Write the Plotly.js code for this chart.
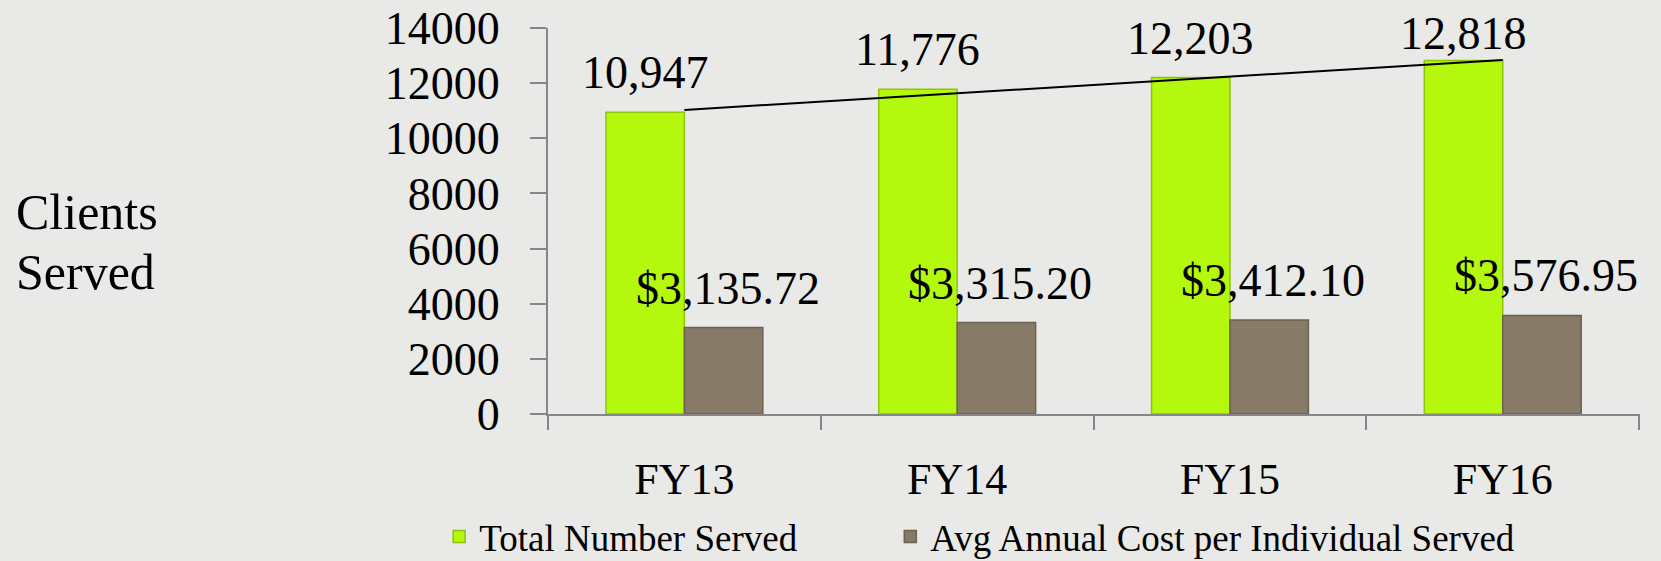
<!DOCTYPE html>
<html>
<head>
<meta charset="utf-8">
<script src="https://cdn.plot.ly/plotly-3.0.1.min.js"></script>
<style>
  html, body { margin: 0; padding: 0; background: #e9e9e7; }
  #chart { width: 1661px; height: 561px; }
</style>
</head>
<body>
<div id="chart"></div>
<script>
// ---- data ----
const categories = ['FY13', 'FY14', 'FY15', 'FY16'];
const totalServed = [10947, 11776, 12203, 12818];
const avgCost = [3135.72, 3315.20, 3412.10, 3576.95];
// straight trend line (at category centres)
const trendValues = [11030, 11634, 12238, 12842];
const yTickVals = [0, 2000, 4000, 6000, 8000, 10000, 12000, 14000];
const yTickText = ['0', '2000', '4000', '6000', '8000', '10000', '12000', '14000'];
const seriesNames = ['Total Number Served', 'Avg Annual Cost per Individual Served'];
const yTitleLines = ['Clients', 'Served'];

// ---- style ----
const FONT = 'Liberation Serif, Times New Roman, serif';
const GREEN = '#b4f80d';
const GREEN_EDGE = '#8fc40a';
const BROWN = '#877a68';
const BROWN_EDGE = '#6c614f';
const AXIS = '#868686';
const LABEL_SIZE = 46;
const totalLift = [12, 12, 12, 0];
const costLift = [12, 12, 12, 12];
const BAR_OFFSET = 39.25;
const titleY = [0.523, 0.368];

const fmtInt = v => v.toLocaleString('en-US');
const fmtCost = v => '$' + v.toLocaleString('en-US', {minimumFractionDigits: 2, maximumFractionDigits: 2});

const traces = [
  {
    type: 'bar', name: seriesNames[0], x: categories, y: totalServed, legend: 'legend',
    marker: {color: GREEN, line: {color: GREEN_EDGE, width: 1.5}},
    hoverinfo: 'x+y'
  },
  {
    type: 'bar', name: seriesNames[1], x: categories, y: avgCost, legend: 'legend2',
    marker: {color: BROWN, line: {color: BROWN_EDGE, width: 1.5}},
    hoverinfo: 'x+y'
  },
  {
    type: 'scatter', mode: 'lines', x: categories, y: trendValues,
    line: {color: '#000000', width: 2}, showlegend: false, hoverinfo: 'skip'
  }
];

const annotations = [];
categories.forEach((c, i) => {
  annotations.push({
    x: c, y: totalServed[i], xref: 'x', yref: 'y', xshift: -BAR_OFFSET, yshift: totalLift[i],
    text: fmtInt(totalServed[i]), showarrow: false, xanchor: 'center', yanchor: 'bottom',
    font: {family: FONT, size: LABEL_SIZE, color: '#000'}
  });
  annotations.push({
    x: c, y: avgCost[i], xref: 'x', yref: 'y', xshift: BAR_OFFSET + 4, yshift: costLift[i],
    text: fmtCost(avgCost[i]), showarrow: false, xanchor: 'center', yanchor: 'bottom',
    font: {family: FONT, size: LABEL_SIZE, color: '#000'}
  });
});
yTitleLines.forEach((t, i) => {
  annotations.push({
    xref: 'paper', yref: 'paper', x: -0.489, y: titleY[i], xanchor: 'left', yanchor: 'middle',
    align: 'left', showarrow: false, text: t,
    font: {family: FONT, size: 50, color: '#000'}
  });
});

const legendCommon = {
  orientation: 'h', xref: 'container', yref: 'container', xanchor: 'left', yanchor: 'middle',
  y: 0.043, font: {family: FONT, size: 37, color: '#000'}, bgcolor: 'rgba(0,0,0,0)',
  itemwidth: 30
};

const layout = {
  width: 1661, height: 561,
  paper_bgcolor: '#e9e9e7', plot_bgcolor: 'rgba(0,0,0,0)',
  margin: {l: 548, r: 21, t: 28, b: 147, pad: 0},
  font: {family: FONT, color: '#000'},
  barmode: 'group', bargap: 0.425, bargroupgap: 0,
  xaxis: {
    type: 'category', showline: true, linecolor: AXIS, linewidth: 2,
    ticks: 'outside', tickson: 'boundaries', ticklen: 14, tickwidth: 2, tickcolor: AXIS,
    showgrid: false, zeroline: false, tickfont: {family: FONT, size: 44, color: '#000'},
    ticklabelstandoff: 25, automargin: false
  },
  yaxis: {
    range: [0, 14000], showline: true, linecolor: AXIS, linewidth: 2,
    ticks: 'outside', ticklen: 16, tickwidth: 2, tickcolor: AXIS,
    tickvals: yTickVals, ticktext: yTickText,
    showgrid: false, zeroline: false, tickfont: {family: FONT, size: 46, color: '#000'},
    ticklabelstandoff: 21, automargin: false
  },
  legend: Object.assign({}, legendCommon, {x: 0.2644}),
  legend2: Object.assign({}, legendCommon, {x: 0.536}),
  showlegend: true,
  annotations: annotations
};

Plotly.newPlot('chart', traces, layout, {displayModeBar: false, staticPlot: true});
</script>
</body>
</html>
